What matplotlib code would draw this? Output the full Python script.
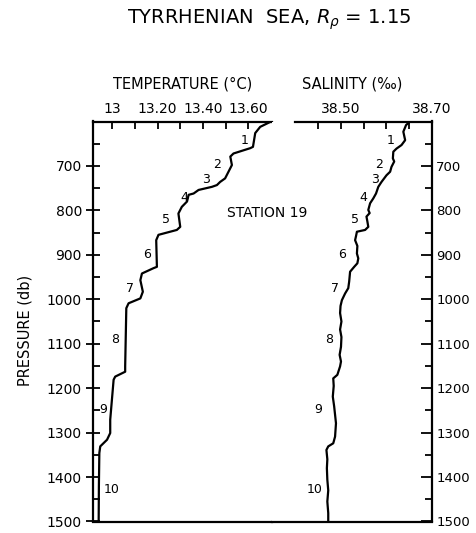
import matplotlib.pyplot as plt
from matplotlib.ticker import FixedLocator, NullLocator

plt.rcParams['font.family'] = ['DejaVu Sans']

# temperature profile, station 19
t_pressure = [600, 612, 626, 657, 660, 672, 679, 698, 713, 728, 736, 743, 747,
              754, 762, 765, 780, 792, 807, 837, 844, 855, 867, 927, 930, 942,
              957, 983, 998, 1009, 1020, 1151, 1163, 1174, 1181, 1271, 1301,
              1316, 1331, 1346, 1420, 1500]
temperature = [13.701, 13.653, 13.631, 13.621, 13.609, 13.535, 13.521, 13.528,
               13.513, 13.498, 13.476, 13.462, 13.440, 13.381, 13.359, 13.337,
               13.330, 13.307, 13.292, 13.300, 13.285, 13.204, 13.194, 13.197,
               13.182, 13.131, 13.124, 13.135, 13.124, 13.072, 13.062, 13.057,
               13.057, 13.013, 13.006, 12.991, 12.991, 12.977, 12.947, 12.943,
               12.941, 12.940]

# salinity profile, station 19
s_pressure = [600, 608, 623, 642, 653, 661, 668, 683, 690, 702, 713, 721, 736,
              747, 762, 773, 784, 799, 806, 814, 825, 837, 844, 848, 858, 867,
              880, 897, 908, 919, 927, 938, 960, 975, 987, 1002, 1015, 1031,
              1050, 1068, 1085, 1107, 1125, 1140, 1151, 1170, 1178, 1195, 1219,
              1241, 1260, 1279, 1309, 1324, 1331, 1339, 1360, 1380, 1406, 1430,
              1455, 1481, 1500]
salinity = [38.652, 38.643, 38.637, 38.641, 38.633, 38.622, 38.615, 38.614,
            38.617, 38.611, 38.608, 38.600, 38.589, 38.582, 38.577, 38.571,
            38.564, 38.560, 38.563, 38.556, 38.558, 38.560, 38.553, 38.535,
            38.533, 38.531, 38.536, 38.535, 38.538, 38.536, 38.529, 38.520,
            38.518, 38.516, 38.509, 38.502, 38.499, 38.498, 38.501, 38.498,
            38.501, 38.500, 38.497, 38.500, 38.498, 38.492, 38.483, 38.484,
            38.482, 38.485, 38.487, 38.489, 38.487, 38.483, 38.472, 38.468,
            38.470, 38.469, 38.470, 38.472, 38.470, 38.472, 38.472]

# numbered steps
step_names = ['1', '2', '3', '4', '5', '6', '7', '8', '9', '10']
step_pressure = [642, 696, 730, 770, 820, 900, 975, 1091, 1249, 1428]
step_temperature = [13.582, 13.462, 13.415, 13.318, 13.238, 13.153, 13.079,
                    13.013, 12.959, 12.999]
step_salinity = [38.609, 38.584, 38.575, 38.549, 38.531, 38.502, 38.487,
                 38.474, 38.450, 38.441]

temp_ticks = [13.0, 13.1, 13.2, 13.3, 13.4, 13.5, 13.6]
temp_ticklabels = ['13', '', '13.20', '', '13.40', '', '13.60']
sal_ticks = [38.45, 38.50, 38.55, 38.60, 38.65, 38.70]
sal_ticklabels = ['', '38.50', '', '', '', '38.70']
p_major = [700, 800, 900, 1000, 1100, 1200, 1300, 1400, 1500]
p_minor = [650, 750, 850, 950, 1050, 1150, 1250, 1350, 1450]

W, H = 476, 533
fig = plt.figure(figsize=(W / 100, H / 100), dpi=100)


def rect(x0, x1, y0=121.5, y1=521.5):
    return [x0 / W, 1 - y1 / H, (x1 - x0) / W, (y1 - y0) / H]


ax_t = fig.add_axes(rect(93, 272))
ax_s = fig.add_axes(rect(272, 432))

for ax in (ax_t, ax_s):
    ax.set_ylim(1500, 600)
    ax.yaxis.set_major_locator(FixedLocator(p_major))
    ax.yaxis.set_minor_locator(FixedLocator(p_minor))
    ax.xaxis.tick_top()
    ax.xaxis.set_minor_locator(NullLocator())
    for sp in ax.spines.values():
        sp.set_linewidth(1.6)

# temperature panel
ax_t.plot(temperature, t_pressure, color='black', lw=1.6)
ax_t.set_xlim(12.915, 13.705)
ax_t.set_xticks(temp_ticks)
ax_t.set_xticklabels(temp_ticklabels)
ax_t.spines['right'].set_visible(False)
ax_t.tick_params(axis='x', direction='in', length=5, width=1.3, pad=4, labelsize=10)
ax_t.tick_params(axis='y', which='major', direction='inout', length=10, width=1.3,
                 labelsize=10, pad=3)
ax_t.tick_params(axis='y', which='minor', direction='in', length=5, width=1.3)
ax_t.set_xlabel('TEMPERATURE (°C)', fontsize=10.5, labelpad=10)
ax_t.xaxis.set_label_position('top')

# salinity panel
ax_s.plot(salinity, s_pressure, color='black', lw=1.6)
ax_s.set_xlim(38.3484, 38.70)
ax_s.set_xticks(sal_ticks)
ax_s.set_xticklabels(sal_ticklabels)
ax_s.spines['left'].set_visible(False)
ax_s.spines['top'].set_bounds(38.40, 38.70)
ax_s.yaxis.tick_right()
ax_s.tick_params(axis='x', direction='in', length=5, width=1.3, pad=4, labelsize=10)
ax_s.tick_params(axis='y', which='major', direction='in', length=8, width=1.3,
                 labelsize=9.5, pad=3)
ax_s.tick_params(axis='y', which='minor', direction='in', length=5, width=1.3)
ax_s.set_xlabel('SALINITY (‰)', fontsize=10.5, labelpad=10)
ax_s.xaxis.set_label_position('top')

for name, p, t, s in zip(step_names, step_pressure, step_temperature, step_salinity):
    ax_t.text(t, p, name, fontsize=9, ha='center', va='center')
    ax_s.text(s, p, name, fontsize=9, ha='center', va='center')

fig.text(267 / W, 1 - 213 / H, 'STATION 19', fontsize=10, ha='center', va='center')
fig.text(25 / W, 1 - 330 / H, 'PRESSURE (db)', fontsize=10.5, rotation=90,
         ha='center', va='center')
fig.text(269 / W, 1 - 20 / H, r'TYRRHENIAN  SEA, $R_\rho$ = 1.15', fontsize=14,
         ha='center', va='center')

fig.savefig('out.png', dpi=100)
